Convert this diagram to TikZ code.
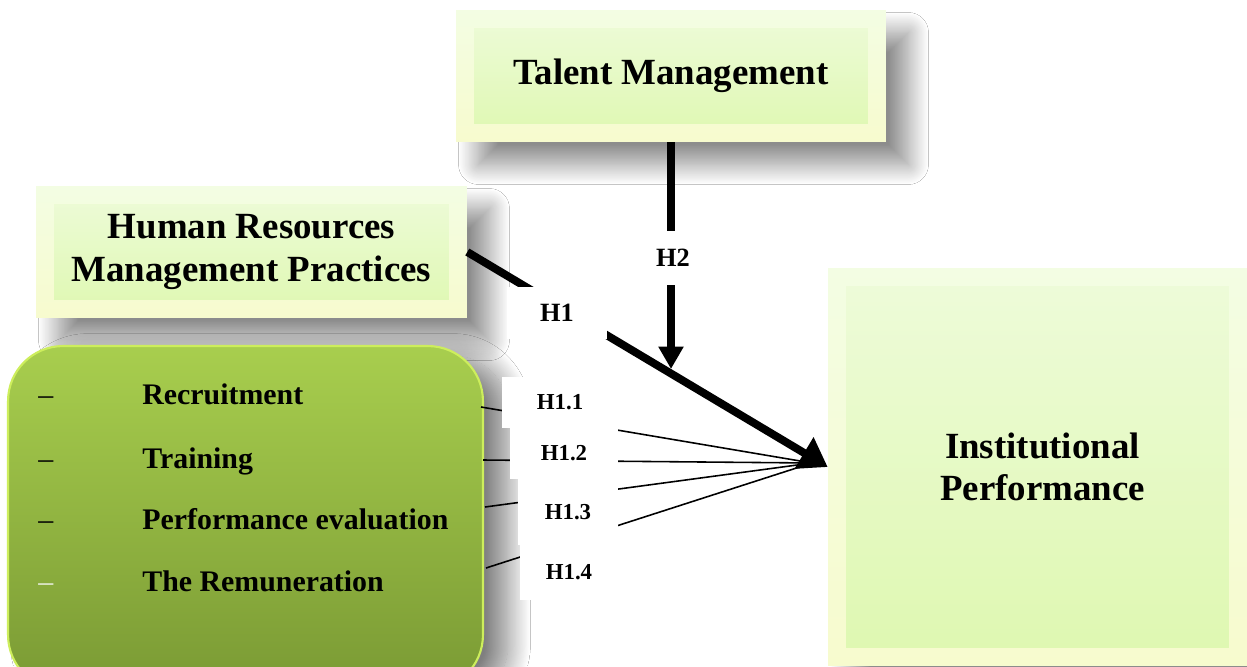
\documentclass[tikz,border=0pt]{standalone}
\usepackage{fontspec}
\setmainfont{Liberation Serif}
\usetikzlibrary{arrows.meta,shadows.blur,calc}
\definecolor{bevtop}{HTML}{F3FDE3}
\definecolor{bevbot}{HTML}{F7FBCE}
\definecolor{facetop}{HTML}{EEFBDA}
\definecolor{facebot}{HTML}{DEF8B0}
\definecolor{grtop}{HTML}{A8CE4E}
\definecolor{grmid}{HTML}{9AC043}
\definecolor{grbot}{HTML}{7A9A34}
\definecolor{grglow}{HTML}{CDEE5C}
\newcommand{\bigfnt}{\fontsize{21}{24}\selectfont\bfseries}
\newcommand{\itemfnt}{\fontsize{17}{20}\selectfont\bfseries}
\newcommand{\labAfnt}{\fontsize{15}{18}\selectfont\bfseries}
\newcommand{\labBfnt}{\fontsize{13}{16}\selectfont\bfseries}
\begin{document}
\begin{tikzpicture}[x=0.02cm,y=-0.02cm,
  bevelbox/.style={rectangle, inner sep=0pt, align=center, font=\bigfnt,
    top color=bevtop, bottom color=bevbot, draw=none,
    blur shadow={shadow xshift=0.45cm, shadow yshift=-0.45cm, shadow blur radius=0.4cm, shadow blur steps=25, shadow opacity=45},
    path picture={\shade[top color=facetop, bottom color=facebot]
      ($(path picture bounding box.south west)+(0.36cm,0.36cm)$) rectangle
      ($(path picture bounding box.north east)+(-0.36cm,-0.36cm)$);}},
  greenbox/.style={rectangle, rounded corners=1.1cm, top color=grtop, middle color=grmid, bottom color=grbot,
    draw=grglow, line width=1.2pt,
    blur shadow={shadow xshift=0.5cm, shadow yshift=-0.2cm, shadow blur radius=0.45cm, shadow blur steps=25, shadow opacity=50}},
  itemtxt/.style={anchor=west, inner sep=0pt, font=\itemfnt, text height=12pt, text depth=4pt},
  dashtxt/.style={anchor=west, inner sep=0pt, font=\fontsize{17}{20}\selectfont, text height=12pt, text depth=4pt},
  labbox/.style={rectangle, fill=white, inner sep=0pt},
  thinln/.style={line width=0.9pt},
  bigarrow/.style={line width=4.5pt, -{Triangle[length=0.55cm,width=0.7cm]}},
  midarrow/.style={line width=4pt, -{Triangle[length=0.45cm,width=0.48cm]}}
]
\useasboundingbox (0,0) rectangle (1247,666);
\fill[white] (0,0) rectangle (1247,666);

\node[bevelbox, minimum width=8.6cm, minimum height=2.64cm] (tal) at (671,76) {Talent Management};
\node[bevelbox, minimum width=8.62cm, minimum height=2.64cm] (hrm) at (251.5,252) {Human Resources\\Management Practices};
\node[greenbox, minimum width=9.5cm, minimum height=6.88cm] (grp) at (245.5,518) {};
\node[bevelbox, minimum width=8.38cm, minimum height=7.96cm] (inst) at (1037.5,467) {\hspace*{0.2cm}Institutional\\\hspace*{0.2cm}Performance};

\node[dashtxt] (d1) at (38,397) {–};
\node[dashtxt] (d2) at (38,461) {–};
\node[dashtxt] (d3) at (38,522) {–};
\node[dashtxt, text=white!85!grbot] (d4) at (38,584) {–};
\node[itemtxt] (r1) at (142,397) {Recruitment};
\node[itemtxt] (r2) at (142,461) {Training};
\node[itemtxt] (r3) at (142,522) {Performance evaluation};
\node[itemtxt] (r4) at (142,584) {The Remuneration};

\coordinate (s1) at (481,407);
\coordinate (s2) at (483,460);
\coordinate (s3) at (485,507);
\coordinate (s4) at (486,568);
\coordinate (conv) at (812,463);
\draw[thinln] (s1) -- (conv);
\draw[thinln] (s2) -- (conv);
\draw[thinln] (s3) -- (conv);
\draw[thinln] (s4) -- (conv);

\coordinate (h2end) at (671,369);
\draw[bigarrow] (hrm.east) -- (inst.west);
\draw[midarrow] (tal.south) -- (h2end);

\node[labbox, minimum width=2cm, minimum height=1.06cm, font=\labAfnt] (lh1) at (557,313) {H1};
\node[labbox, minimum width=0.9cm, minimum height=1.1cm, font=\labAfnt] (lh2) at (673,258) {H2};
\node[labbox, minimum width=2.32cm, minimum height=1.02cm, font=\labBfnt] (l11) at (560,402.5) {H1.1};
\node[labbox, minimum width=2.16cm, minimum height=1.02cm, font=\labBfnt] (l12) at (564,453.5) {H1.2};
\node[labbox, minimum width=2.0cm, minimum height=1.32cm, font=\labBfnt] (l13) at (568,512) {H1.3};
\node[labbox, minimum width=1.96cm, minimum height=1.1cm, font=\labBfnt] (l14) at (569,572.5) {H1.4};
\end{tikzpicture}
\end{document}
